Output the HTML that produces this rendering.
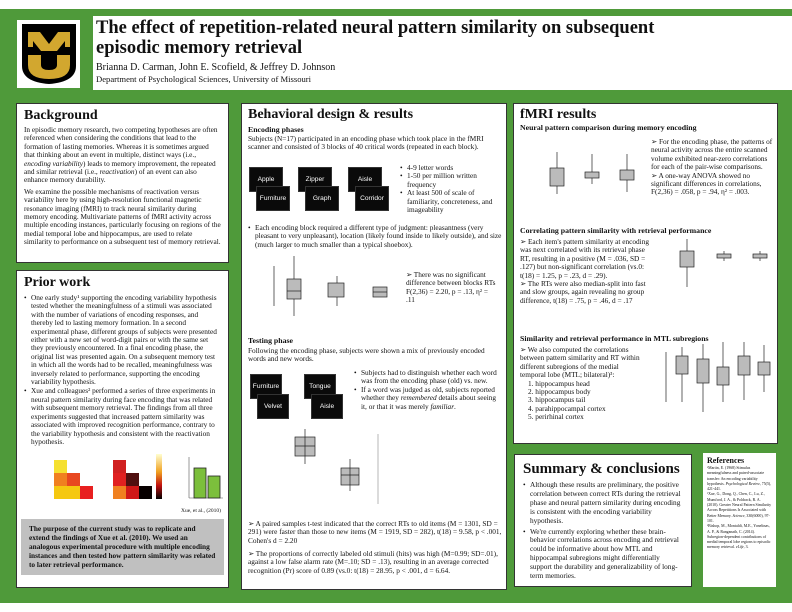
<!DOCTYPE html>
<html><head><meta charset="utf-8"><style>
*{margin:0;padding:0;box-sizing:border-box}
body{width:792px;height:612px;background:#fff;font-family:"Liberation Serif",serif;color:#111;position:relative;overflow:hidden}
.g{position:absolute;left:0;top:9px;width:792px;height:594px;background:#4f9a3a}
.p{position:absolute;background:#fff;border:1px solid #333}
.h{font-weight:bold;font-size:14px;line-height:16px}
.t{font-size:7.3px;line-height:8.4px}
.s{font-weight:bold;font-size:7.8px;line-height:10px}
ul{list-style:none}
li{position:relative;padding-left:7px}
li:before{content:"•";position:absolute;left:0}
.w{position:absolute;background:#0a0a0a;border:1px solid #333;color:#fff;font-family:"Liberation Sans",sans-serif;font-size:6.6px;display:flex;align-items:center;justify-content:center}
svg{position:absolute}
svg.f{position:static;display:block}
</style></head><body>
<div class="g"></div>
<div class="p" style="left:17px;top:20px;width:63px;height:68px;border:none"></div>
<svg style="left:20px;top:22px" width="58" height="64" viewBox="0 0 58 64"><path d="M2 2H56V44Q56 60 29 62Q2 60 2 44Z" fill="#000"/><path d="M8 10h12l9 12 9-12h12v15h-5v-6l-8 10h-16l-8-10v6h-5z" fill="#d2a72f"/><path d="M8 33h13v10q0 5 8 5t8-5V33h13v10q0 14-21 14T8 43z" fill="#d2a72f"/></svg>
<div class="p" style="left:93px;top:16px;width:699px;height:74px;border:none;padding:2px 0 0 3px">
<div style="font-weight:bold;font-size:18.5px;line-height:20px">The effect of repetition-related neural pattern similarity on subsequent<br>episodic memory retrieval</div>
<div style="font-size:10px;line-height:13px;margin-top:3px">Brianna D. Carman, John E. Scofield, &amp; Jeffrey D. Johnson</div>
<div style="font-size:8.6px;line-height:11px">Department of Psychological Sciences, University of Missouri</div>
</div>

<div class="p" style="left:16px;top:103px;width:213px;height:160px;padding:4px 7px">
<div class="h">Background</div>
<div class="t" style="margin-top:2px">In episodic memory research, two competing hypotheses are often referenced when considering the conditions that lead to the formation of lasting memories. Whereas it is sometimes argued that thinking about an event in multiple, distinct ways (i.e., <i>encoding variability</i>) leads to memory improvement, the repeated and similar retrieval (i.e., <i>reactivation</i>) of an event can also enhance memory durability.</div>
<div class="t" style="margin-top:3px">We examine the possible mechanisms of reactivation versus variability here by using high-resolution functional magnetic resonance imaging (fMRI) to track neural similarity during memory encoding. Multivariate patterns of fMRI activity across multiple encoding instances, particularly focusing on regions of the medial temporal lobe and hippocampus, are used to relate similarity to performance on a subsequent test of memory retrieval.</div>
</div>

<div class="p" style="left:16px;top:270px;width:213px;height:318px;padding:4px 7px">
<div class="h">Prior work</div>
<ul class="t" style="margin-top:3px"><li>One early study¹ supporting the encoding variability hypothesis tested whether the meaningfulness of a stimuli was associated with the number of variations of encoding responses, and thereby led to lasting memory formation. In a second experimental phase, different groups of subjects were presented either with a new set of word-digit pairs or with the same set they previously encountered. In a final encoding phase, the original list was presented again. On a subsequent memory test in which all the words had to be recalled, meaningfulness was inversely related to performance, supporting the encoding variability hypothesis.</li>
<li style="margin-top:1px">Xue and colleagues² performed a series of three experiments in neural pattern similarity during face encoding that was related with subsequent memory retrieval. The findings from all three experiments suggested that increased pattern similarity was associated with improved recognition performance, contrary to the variability hypothesis and consistent with the reactivation hypothesis.</li></ul>
<svg class="f" style="margin:6px 0 0 14px" width="190" height="54"><rect x="16" y="8" width="13" height="13" fill="#f5e030"/><rect x="16" y="21" width="13" height="13" fill="#f08020"/><rect x="29" y="21" width="13" height="13" fill="#e84820"/><rect x="16" y="34" width="13" height="13" fill="#f5c810"/><rect x="29" y="34" width="13" height="13" fill="#f5c810"/><rect x="42" y="34" width="13" height="13" fill="#e82020"/>
<rect x="75" y="8" width="13" height="13" fill="#d02020"/><rect x="75" y="21" width="13" height="13" fill="#e02020"/><rect x="88" y="21" width="13" height="13" fill="#501010"/><rect x="75" y="34" width="13" height="13" fill="#f08020"/><rect x="88" y="34" width="13" height="13" fill="#d01818"/><rect x="101" y="34" width="13" height="13" fill="#080000"/>
<defs><linearGradient id="cb" x1="0" y1="0" x2="0" y2="1"><stop offset="0" stop-color="#ffffd0"/><stop offset=".4" stop-color="#f0a020"/><stop offset=".7" stop-color="#c01010"/><stop offset="1" stop-color="#000"/></linearGradient></defs><rect x="118" y="2" width="6" height="45" fill="url(#cb)"/>
<line x1="151" y1="5" x2="151" y2="46" stroke="#555" stroke-width=".6"/><line x1="151" y1="46" x2="185" y2="46" stroke="#555" stroke-width=".6"/>
<rect x="156" y="16" width="12" height="30" fill="#7cbf3c" stroke="#222" stroke-width=".8"/><rect x="170" y="24" width="12" height="22" fill="#7cbf3c" stroke="#222" stroke-width=".8"/></svg>
<div style="text-align:right;font-size:5.5px;line-height:8px;margin-top:1px">Xue, et al., (2010)</div>
<div style="background:#c0c0c0;margin:4px -3px 0;padding:6px 8px;font-weight:bold;font-size:7.3px;line-height:8.8px">The purpose of the current study was to replicate and extend the findings of Xue et al. (2010). We used an analogous experimental procedure with multiple encoding instances and then tested how pattern similarity was related to later retrieval performance.</div>
</div>

<div class="p" style="left:241px;top:103px;width:266px;height:487px;padding:3px 6px">
<div class="h">Behavioral design &amp; results</div>
<div class="s" style="margin-top:2px">Encoding phases</div>
<div class="t">Subjects (N=17) participated in an encoding phase which took place in the fMRI scanner and consisted of 3 blocks of 40 critical words (repeated in each block).</div>
<ul class="t" style="position:absolute;left:158px;top:60px;width:104px"><li>4-9 letter words</li><li>1-50 per million written frequency</li><li>At least 500 of scale of familiarity, concreteness, and imageability</li></ul>
<div class="w" style="left:7px;top:63px;width:34px;height:25px">Apple</div><div class="w" style="left:14px;top:82px;width:34px;height:25px">Furniture</div>
<div class="w" style="left:56px;top:63px;width:34px;height:25px">Zipper</div><div class="w" style="left:63px;top:82px;width:34px;height:25px">Graph</div>
<div class="w" style="left:106px;top:63px;width:34px;height:25px">Aisle</div><div class="w" style="left:113px;top:82px;width:34px;height:25px">Corridor</div>
<ul class="t" style="position:absolute;left:6px;top:120px;width:255px"><li>Each encoding block required a different type of judgment: pleasantness (very pleasant to very unpleasant), location (likely found inside to likely outside), and size (much larger to much smaller than a typical shoebox).</li></ul>
<svg style="left:20px;top:152px" width="130" height="80" stroke="#222" stroke-width=".7"><line x1="12" y1="10" x2="12" y2="50"/><line x1="32" y1="0" x2="32" y2="60"/><rect x="25" y="23" width="14" height="20" fill="#bbb"/><line x1="25" y1="35" x2="39" y2="35"/><line x1="75" y1="20" x2="75" y2="50"/><rect x="66" y="27" width="16" height="14" fill="#bbb"/><rect x="111" y="31" width="14" height="10" fill="#bbb"/><line x1="111" y1="36" x2="125" y2="36"/></svg>
<div class="t" style="position:absolute;left:156px;top:167px;width:100px;padding-left:8px">➢ There was no significant difference between blocks RTs F(2,36) = 2.20, p = .13, η² = .11</div>
<div class="s" style="position:absolute;left:6px;top:232px">Testing phase</div>
<div class="t" style="position:absolute;left:6px;top:243px;width:250px">Following the encoding phase, subjects were shown a mix of previously encoded words and new words.</div>
<div class="w" style="left:8px;top:270px;width:32px;height:25px">Furniture</div><div class="w" style="left:15px;top:290px;width:32px;height:25px">Velvet</div>
<div class="w" style="left:62px;top:270px;width:32px;height:25px">Tongue</div><div class="w" style="left:69px;top:290px;width:32px;height:25px">Aisle</div>
<ul class="t" style="position:absolute;left:112px;top:265px;width:148px"><li>Subjects had to distinguish whether each word was from the encoding phase (old) vs. new.</li><li>If a word was judged as old, subjects reported whether they <i>remembered</i> details about seeing it, or that it was merely <i>familiar</i>.</li></ul>
<svg style="left:6px;top:325px" width="250" height="85" stroke="#222" stroke-width=".7"><rect x="47" y="8" width="20" height="19" fill="#bbb"/><line x1="47" y1="17" x2="67" y2="17"/><line x1="57" y1="0" x2="57" y2="35"/><rect x="93" y="39" width="18" height="17" fill="#bbb"/><line x1="93" y1="46" x2="111" y2="46"/><line x1="102" y1="30" x2="102" y2="62"/><line x1="130" y1="5" x2="130" y2="75" stroke="#999"/></svg>
<div class="t" style="position:absolute;left:6px;top:416px;width:254px">➢ A paired samples t-test indicated that the correct RTs to old items (M = 1301, SD = 291) were faster than those to new items (M = 1919, SD = 282), t(18) = 9.58, p &lt; .001, Cohen's d = 2.20</div>
<div class="t" style="position:absolute;left:6px;top:446px;width:254px">➢ The proportions of correctly labeled old stimuli (hits) was high (M=0.99; SD=.01), against a low false alarm rate (M=.10; SD = .13), resulting in an average corrected recognition (Pr) score of 0.89 (vs.0: t(18) = 28.95, p &lt; .001, d = 6.64.</div>
</div>

<div class="p" style="left:513px;top:103px;width:265px;height:341px;padding:3px 6px">
<div class="h">fMRI results</div>
<div class="s">Neural pattern comparison during memory encoding</div>
<svg style="left:8px;top:40px" width="125" height="70" stroke="#222" stroke-width=".7"><line x1="35" y1="8" x2="35" y2="50"/><rect x="28" y="24" width="14" height="18" fill="#bbb"/><line x1="70" y1="10" x2="70" y2="40"/><rect x="63" y="28" width="14" height="6" fill="#bbb"/><line x1="105" y1="10" x2="105" y2="48"/><rect x="98" y="26" width="14" height="10" fill="#bbb"/></svg>
<div class="t" style="position:absolute;left:137px;top:34px;width:124px">➢ For the encoding phase, the patterns of neural activity across the entire scanned volume exhibited near-zero correlations for each of the pair-wise comparisons.<br>➢ A one-way ANOVA showed no significant differences in correlations, F(2,36) = .058, p = .94, η² = .003.</div>
<div class="s" style="position:absolute;left:6px;top:122px">Correlating pattern similarity with retrieval performance</div>
<div class="t" style="position:absolute;left:6px;top:134px;width:132px">➢ Each item's pattern similarity at encoding was next correlated with its retrieval phase RT, resulting in a positive (M = .036, SD = .127) but non-significant correlation (vs.0: t(18) = 1.25, p = .23, d = .29).<br>➢ The RTs were also median-split into fast and slow groups, again revealing no group difference, t(18) = .75, p = .46, d = .17</div>
<svg style="left:160px;top:133px" width="100" height="75" stroke="#222" stroke-width=".7"><line x1="13" y1="2" x2="13" y2="50"/><rect x="6" y="14" width="14" height="16" fill="#bbb"/><line x1="50" y1="14" x2="50" y2="24"/><rect x="43" y="17" width="14" height="4" fill="#bbb"/><line x1="86" y1="14" x2="86" y2="24"/><rect x="79" y="17" width="14" height="4" fill="#bbb"/></svg>
<div class="s" style="position:absolute;left:6px;top:230px">Similarity and retrieval performance in MTL subregions</div>
<div class="t" style="position:absolute;left:6px;top:242px;width:125px">➢ We also computed the correlations between pattern similarity and RT within different subregions of the medial temporal lobe (MTL; bilateral)³:<div style="padding-left:8px">1. hippocampus head<br>2. hippocampus body<br>3. hippocampus tail<br>4. parahippocampal cortex<br>5. perirhinal cortex</div></div>
<svg style="left:140px;top:238px" width="120" height="75" stroke="#222" stroke-width=".7"><line x1="12" y1="10" x2="12" y2="60"/><line x1="28" y1="5" x2="28" y2="60"/><rect x="22" y="14" width="12" height="18" fill="#bbb"/><line x1="49" y1="2" x2="49" y2="70"/><rect x="43" y="17" width="12" height="24" fill="#bbb"/><line x1="69" y1="0" x2="69" y2="60"/><rect x="63" y="25" width="12" height="18" fill="#bbb"/><line x1="90" y1="0" x2="90" y2="58"/><rect x="84" y="14" width="12" height="19" fill="#bbb"/><line x1="110" y1="3" x2="110" y2="50"/><rect x="104" y="20" width="12" height="13" fill="#bbb"/></svg>
</div>

<div class="p" style="left:514px;top:454px;width:178px;height:133px;padding:6px 8px">
<div class="h" style="font-size:15px">Summary &amp; conclusions</div>
<ul style="font-size:7.3px;line-height:8.9px;margin-top:4px"><li>Although these results are preliminary, the positive correlation between correct RTs during the retrieval phase and neural pattern similarity during encoding is consistent with the encoding variability hypothesis.</li><li style="margin-top:2px">We're currently exploring whether these brain-behavior correlations across encoding and retrieval could be informative about how MTL and hippocampal subregions might differentially support the durability and generalizability of long-term memories.</li></ul>
</div>

<div class="p" style="left:703px;top:453px;width:73px;height:134px;padding:3px 4px;border:none">
<div style="font-weight:bold;font-size:8px">References</div>
<div style="font-size:3.9px;line-height:5.3px;margin-top:1px">¹Martin, E. (1968) Stimulus meaningfulness and paired-associate transfer: An encoding variability hypothesis. <i>Psychological Review</i>, 75(5), 421-441.<br>²Xue, G., Dong, Q., Chen, C., Lu, Z., Mumford, J. A., &amp; Poldrack, R. A. (2010). Greater Neural Pattern Similarity Across Repetitions Is Associated with Better Memory. <i>Science</i>, 330(6000), 97-101.<br>³Bishop, M., Montaldi, M.E., Yonelinas, A. P., &amp; Ranganath, C. (2014). Subregion-dependent contributions of medial temporal lobe regions to episodic memory retrieval. <i>eLife</i>, 3.</div>
</div>
</body></html>
